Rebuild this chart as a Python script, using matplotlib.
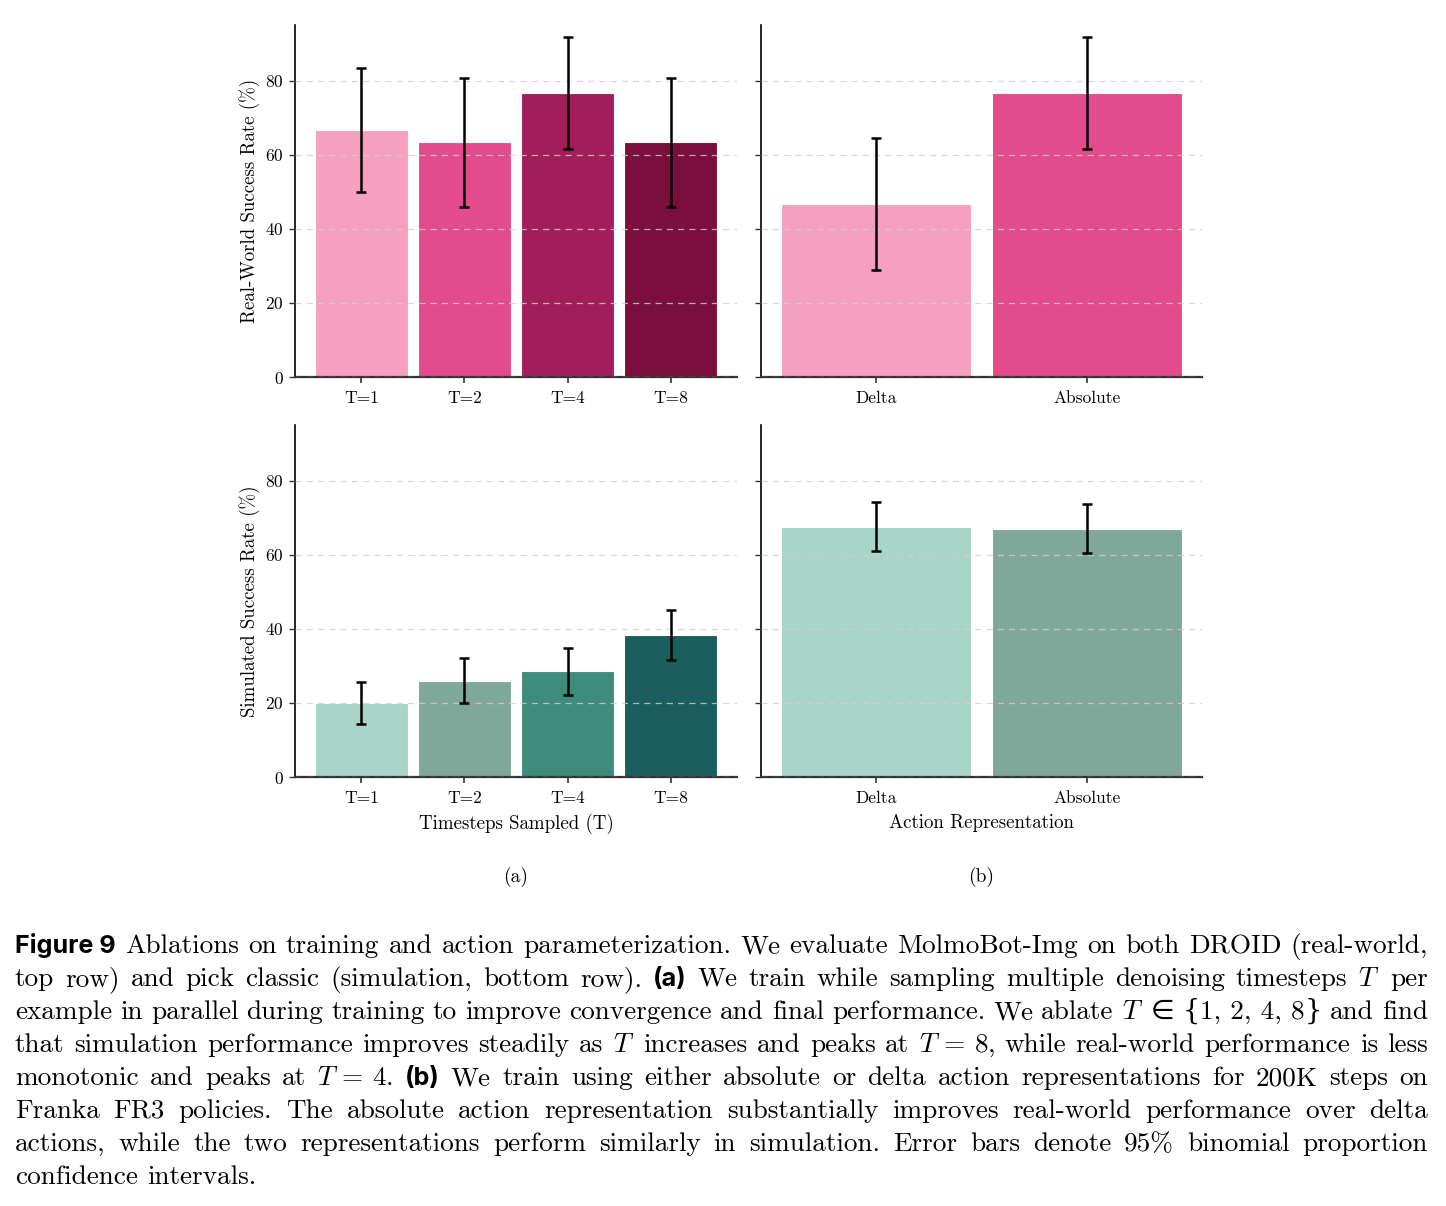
import matplotlib
matplotlib.use("Agg")
import matplotlib.pyplot as plt
from matplotlib.transforms import IdentityTransform
import numpy as np

plt.rcParams['font.family'] = ['cmr10', 'DejaVu Serif']
plt.rcParams['mathtext.fontset'] = 'cm'
plt.rcParams['axes.formatter.use_mathtext'] = True
plt.rcParams['axes.unicode_minus'] = False

# ---------------- data ----------------
t_labels = ["T=1", "T=2", "T=4", "T=8"]
rep_labels = ["Delta", "Absolute"]

real_t = [66.7, 63.3, 76.7, 63.3]
real_t_lo = [50.0, 45.9, 61.6, 45.9]
real_t_hi = [83.5, 80.6, 91.8, 80.6]

real_rep = [46.7, 76.7]
real_rep_lo = [28.8, 61.6]
real_rep_hi = [64.6, 91.8]

sim_t = [20.0, 26.0, 28.5, 38.4]
sim_t_lo = [14.4, 19.9, 22.2, 31.7]
sim_t_hi = [25.6, 32.1, 34.8, 45.2]

sim_rep = [67.6, 67.0]
sim_rep_lo = [61.1, 60.5]
sim_rep_hi = [74.1, 73.6]

pinks = ["#f6a0bf", "#e24b8c", "#a11e5a", "#7a0e3e"]
teals = ["#a8d5c8", "#7fa89b", "#3e8c7c", "#1b5e5e"]

yticks = [0, 20, 40, 60, 80]

W, H = 1446, 1206
fig = plt.figure(figsize=(W / 100, H / 100), dpi=100)

def px_axes(x0, y0, x1, y1):
    return fig.add_axes([x0 / W, 1 - y1 / H, (x1 - x0) / W, (y1 - y0) / H])

ax_tl = px_axes(295, 25, 737, 377)
ax_tr = px_axes(761, 25, 1202, 377)
ax_bl = px_axes(295, 425, 737, 777)
ax_br = px_axes(761, 425, 1202, 777)

def draw(ax, labels, vals, lo, hi, colors, ylabel=None, xlabel=None, show_ylabels=True):
    x = np.arange(len(labels))
    vals = np.array(vals)
    err = np.array([vals - np.array(lo), np.array(hi) - vals])
    ax.bar(x, vals, width=0.9, color=colors[:len(labels)], edgecolor='white',
           linewidth=0.8, zorder=1)
    ax.errorbar(x, vals, yerr=err, fmt='none', ecolor='black', elinewidth=1.8,
                capsize=3.5, capthick=1.8, zorder=3)
    ax.set_ylim(0, 95)
    ax.set_yticks(yticks)
    ax.set_xticks(x)
    ax.set_xticklabels(labels, fontsize=12.5)
    ax.tick_params(axis='y', labelsize=12.5, length=4.5, width=1, color='#333333')
    ax.tick_params(axis='x', length=4.5, width=1.2, color='#333333', pad=5)
    if not show_ylabels:
        ax.tick_params(axis='y', labelleft=False)
    ax.yaxis.grid(True, linestyle=(0, (5, 4)), color='#d0d0d0', linewidth=0.9, alpha=0.8, zorder=2)
    ax.set_axisbelow(False)
    for s in ['top', 'right']:
        ax.spines[s].set_visible(False)
    ax.spines['left'].set_linewidth(1.2)
    ax.spines['left'].set_color('black')
    ax.spines['bottom'].set_linewidth(1.6)
    ax.spines['bottom'].set_color('#333333')
    if ylabel:
        ax.set_ylabel(ylabel, fontsize=13.6, labelpad=4)
    if xlabel:
        ax.set_xlabel(xlabel, fontsize=13.6, labelpad=6)

draw(ax_tl, t_labels, real_t, real_t_lo, real_t_hi, pinks, ylabel="Real-World Success Rate (%)")
draw(ax_tr, rep_labels, real_rep, real_rep_lo, real_rep_hi, pinks, show_ylabels=False)
draw(ax_bl, t_labels, sim_t, sim_t_lo, sim_t_hi, teals, ylabel="Simulated Success Rate (%)",
     xlabel="Timesteps Sampled (T)")
draw(ax_br, rep_labels, sim_rep, sim_rep_lo, sim_rep_hi, teals, xlabel="Action Representation",
     show_ylabels=False)

fig.text(516 / W, 1 - 877 / H, "(a)", ha='center', va='center', fontsize=14)
fig.text(981 / W, 1 - 877 / H, "(b)", ha='center', va='center', fontsize=14)

# ---------------- caption ----------------
# '~' marks a non-breaking space inside one word; style 'g' = glued word made of pieces
caption_lines = [
    [("Figure~9", 'b'), ("Ablations on training and action parameterization. We evaluate MolmoBot-Img on both DROID (real-world,", 'r')],
    [("top row) and pick classic (simulation, bottom row).", 'r'), ("(a)", 'b'), ("We train while sampling multiple denoising timesteps $T$ per", 'r')],
    [("example in parallel during training to improve convergence and final performance. We ablate $T$ \u2208", 'r'),
     ([("{", 's'), ("1,\u20092,\u20094,\u20098", 'r'), ("}", 's')], 'g'), ("and find", 'r')],
    [("that simulation performance improves steadily as $T$ increases and peaks at $T$~=~8, while real-world performance is less", 'r')],
    [("monotonic and peaks at $T$~=~4.", 'r'), ("(b)", 'b'), ("We train using either absolute or delta action representations for 200K steps on", 'r')],
    [("Franka FR3 policies. The absolute action representation substantially improves real-world performance over delta", 'r')],
    [("actions, while the two representations perform similarly in simulation. Error bars denote 95% binomial proportion", 'r')],
    [("confidence intervals.", 'r')],
]

CAP_SIZE = 19.6
LEFT, RIGHT = 15, 1428
TOP_BASE = 953
LINE_H = 33

fig.canvas.draw()
renderer = fig.canvas.get_renderer()

def make_text(s, style, y):
    if style == 'b':
        return fig.text(0, y, s, transform=IdentityTransform(), fontsize=CAP_SIZE - 1.5,
                        family=['Inter', 'DejaVu Sans'], fontweight='bold', va='baseline')
    if style == 's':
        return fig.text(0, y, s, transform=IdentityTransform(), fontsize=CAP_SIZE,
                        family=['DejaVu Serif'], va='baseline')
    if s == '\u2208':
        return fig.text(0, y, s, transform=IdentityTransform(), fontsize=CAP_SIZE,
                        family=['DejaVu Sans'], va='baseline')
    if '\u2009' in s:
        s = s.replace('\u2009', ' ')
    return fig.text(0, y, s, transform=IdentityTransform(), fontsize=CAP_SIZE, va='baseline')

for li, segs in enumerate(caption_lines):
    words = []  # each word: list of text objects glued together
    y = H - (TOP_BASE + li * LINE_H)
    for text, style in segs:
        if style == 'g':
            words.append([make_text(p, st, y) for p, st in text])
            continue
        for w in text.split(' '):
            if w:
                words.append([make_text(w.replace('~', ' '), style, y)])
    wwidths = []
    for objs in words:
        wwidths.append([o.get_window_extent(renderer=renderer).width for o in objs])
    total = sum(sum(ws) for ws in wwidths)
    ngaps = len(words) - 1
    last = li == len(caption_lines) - 1
    if last or ngaps == 0:
        gap = CAP_SIZE * 0.33 * 100 / 72
    else:
        gap = (RIGHT - LEFT - total) / ngaps
    x = LEFT
    for objs, ws in zip(words, wwidths):
        for o, wdt in zip(objs, ws):
            o.set_x(x)
            x += wdt
        x += gap

fig.savefig("out.png", dpi=100)
